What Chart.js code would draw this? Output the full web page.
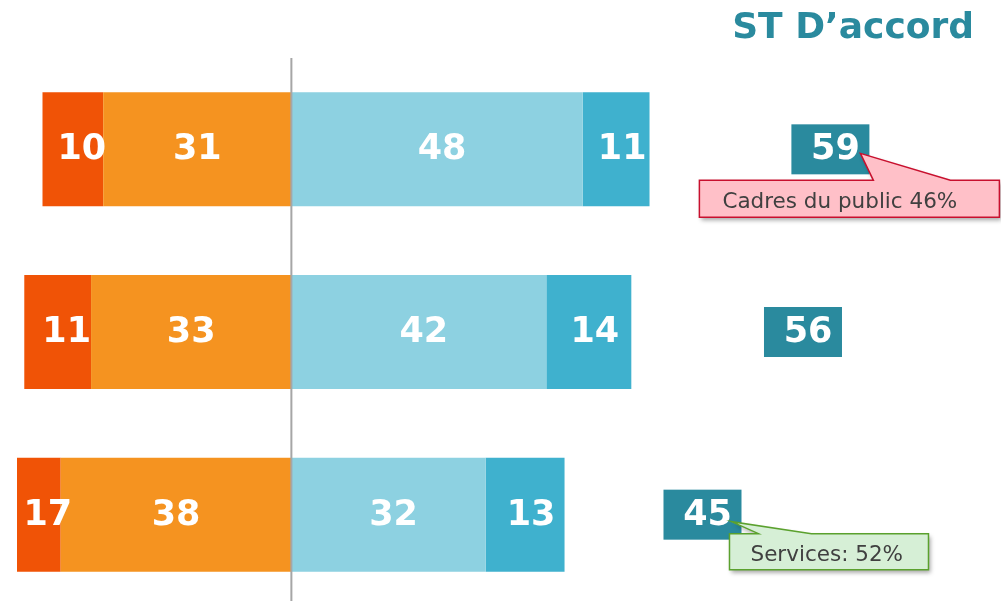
<!DOCTYPE html>
<html lang="fr">
<head>
<meta charset="UTF-8">
<title>ST D'accord</title>
<script src="https://cdn.jsdelivr.net/npm/chart.js"></script>
<style>
  html, body { margin: 0; padding: 0; background: #fff; overflow: hidden; }
  #wrap { width: 1001px; height: 606px; }
</style>
</head>
<body>
<div id="wrap"><canvas id="chart"></canvas></div>
<script>
// data
const categories = ['Ligne 1', 'Ligne 2', 'Ligne 3'];
const plutotPas = [31, 33, 38];      // orange, left of centre
const pasDuTout = [10, 11, 17];      // dark orange, outer left
const plutot = [48, 42, 32];         // light blue
const tout = [11, 14, 13];           // blue
const totals = [59, 56, 45];         // "ST D'accord"
const callouts = ['Cadres du public 46%', null, 'Services: 52%'];

const FONT = "'DejaVu Sans', Verdana, sans-serif";
const TEAL = '#2A8A9E';

// label offsets per dataset (the original labels sit a bit to the right)
const labelShift = [0, 9, 5, 6];

const extras = {
  id: 'extras',
  afterDatasetsDraw(chart) {
    const ctx = chart.ctx;
    const area = chart.chartArea;
    const xs = chart.scales.x;

    // centre line
    const x0 = xs.getPixelForValue(0);
    ctx.save();
    ctx.strokeStyle = '#A6A6A6';
    ctx.lineWidth = 2;
    ctx.beginPath();
    ctx.moveTo(x0, 58);
    ctx.lineTo(x0, chart.height);
    ctx.stroke();

    // values in the bars
    ctx.fillStyle = '#fff';
    ctx.font = 'bold 35px ' + FONT;
    ctx.textAlign = 'center';
    ctx.textBaseline = 'middle';
    chart.data.datasets.forEach((ds, di) => {
      chart.getDatasetMeta(di).data.forEach((bar, i) => {
        const a = Math.max(Math.min(bar.x, bar.base), area.left);
        const b = Math.max(bar.x, bar.base);
        ctx.fillText(Math.abs(ds.data[i]), (a + b) / 2 + labelShift[di], bar.y + 1);
      });
    });

    // title
    ctx.fillStyle = TEAL;
    ctx.font = 'bold 36px ' + FONT;
    ctx.textAlign = 'right';
    ctx.textBaseline = 'alphabetic';
    ctx.fillText('ST D\u2019accord', 974, 38);

    // total boxes
    const meta = chart.getDatasetMeta(0);
    const boxes = totals.map((t, i) => {
      const cx = xs.getPixelForValue(t * 1.505);
      const cy = meta.data[i].y;
      return { l: cx - 39, r: cx + 39, t: cy - 25, b: cy + 25, cx, cy };
    });
    boxes.forEach((bx, i) => {
      ctx.fillStyle = TEAL;
      ctx.fillRect(bx.l, bx.t, 78, 50);
      ctx.fillStyle = '#fff';
      ctx.font = 'bold 35px ' + FONT;
      ctx.textAlign = 'center';
      ctx.textBaseline = 'middle';
      ctx.fillText(totals[i], bx.cx + 5, bx.cy + 1);
    });

    // callouts
    const styles = [
      { fill: '#FFC0C8', stroke: '#C8102E', dl: -92, w: 300, dt: 6, h: 37, tip: [-9, 4], base: [82, 159], tx: 23 },
      null,
      { fill: '#D6EFD6', stroke: '#5BA12E', dl: 66, w: 199, dt: -6, h: 36, tip: [-10, 7], base: [95, 148], tx: 21 }
    ];
    callouts.forEach((txt, i) => {
      if (!txt) return;
      const s = styles[i];
      const bx = boxes[i];
      const L = bx.l + s.dl, T = bx.b + s.dt, R = L + s.w, B = T + s.h;
      const tipX = bx.r + s.tip[0], tipY = bx.cy + s.tip[1];
      ctx.save();
      ctx.beginPath();
      ctx.moveTo(L, T);
      ctx.lineTo(bx.l + s.base[0], T);
      ctx.lineTo(tipX, tipY);
      ctx.lineTo(bx.l + s.base[1], T);
      ctx.lineTo(R, T);
      ctx.lineTo(R, B);
      ctx.lineTo(L, B);
      ctx.closePath();
      ctx.shadowColor = 'rgba(0,0,0,0.35)';
      ctx.shadowBlur = 4;
      ctx.shadowOffsetX = 2;
      ctx.shadowOffsetY = 3;
      ctx.fillStyle = s.fill;
      ctx.fill();
      ctx.shadowColor = 'transparent';
      ctx.strokeStyle = s.stroke;
      ctx.lineWidth = 1.5;
      ctx.stroke();
      ctx.restore();
      ctx.fillStyle = '#404040';
      ctx.font = '21.5px ' + FONT;
      ctx.textAlign = 'left';
      ctx.textBaseline = 'alphabetic';
      ctx.fillText(txt, L + s.tx, B - 9);
    });
    ctx.restore();
  }
};

new Chart(document.getElementById('chart'), {
  type: 'bar',
  data: {
    labels: categories,
    datasets: [
      { label: 'Plutôt pas d\u2019accord', data: plutotPas.map(v => -v), backgroundColor: '#F59320' },
      { label: 'Pas du tout d\u2019accord', data: pasDuTout.map(v => -v), backgroundColor: '#F05306' },
      { label: 'Plutôt d\u2019accord', data: plutot, backgroundColor: '#8DD1E1' },
      { label: 'Tout à fait d\u2019accord', data: tout, backgroundColor: '#3FB1CE' }
    ]
  },
  options: {
    indexAxis: 'y',
    responsive: true,
    maintainAspectRatio: false,
    animation: false,
    layout: { padding: { top: 58, bottom: 0, left: 17, right: 0 } },
    datasets: { bar: { barPercentage: 0.624, categoryPercentage: 1, borderWidth: 0 } },
    scales: {
      x: { stacked: true, min: -45.2, max: 116.9, display: false },
      y: { stacked: true, display: false }
    },
    plugins: { legend: { display: false }, tooltip: { enabled: false } }
  },
  plugins: [extras]
});
</script>
</body>
</html>
